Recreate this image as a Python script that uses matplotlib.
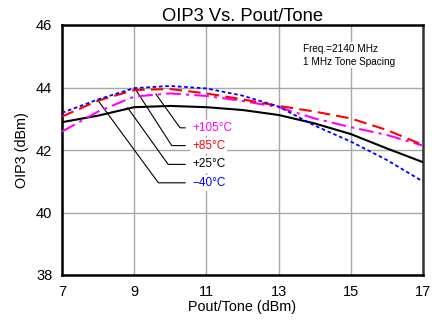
import matplotlib.pyplot as plt

plt.rcParams['font.family'] = ['Liberation Sans', 'DejaVu Sans']

pout = [7, 8, 9, 10, 11, 12, 13, 14, 15, 16, 17]
oip3_m40 = [43.19, 43.62, 43.98, 44.05, 43.97, 43.74, 43.39, 42.78, 42.27, 41.68, 40.99]
oip3_p25 = [42.89, 43.10, 43.37, 43.41, 43.37, 43.28, 43.12, 42.85, 42.51, 42.05, 41.61]
oip3_p85 = [43.07, 43.58, 43.92, 43.95, 43.81, 43.62, 43.41, 43.23, 43.01, 42.64, 42.16]
oip3_p105 = [42.59, 43.23, 43.71, 43.81, 43.73, 43.57, 43.37, 43.01, 42.73, 42.48, 42.14]

labels = ['+105°C', '+85°C', '+25°C', '\u221240°C']
label_colors = ['#ff00ff', '#ff0000', 'black', '#0000ff']
label_y = [42.71, 42.14, 41.54, 40.95]
leader_start = [(9.6, 43.79), (9.02, 43.97), (8.82, 43.35), (8.0, 43.58)]
leader_knee_x = [10.27, 10.04, 9.94, 9.67]

fig = plt.figure(figsize=(4.38, 3.22), dpi=100)
ax = fig.add_axes([62 / 438, 47 / 322, 361 / 438, 250 / 322])

ax.plot(pout, oip3_p25, color='black', lw=1.5, zorder=4)
ax.plot(pout, oip3_p105, color='#ff00ff', lw=1.5, dashes=(7, 2.5, 1.5, 2.5), zorder=4)
ax.plot(pout, oip3_p85, color='#ff0000', lw=1.5, dashes=(6, 3), zorder=4)
ax.plot(pout, oip3_m40, color='#0000ff', lw=1.3, dashes=(2, 1.5), zorder=4)

# leader lines + labels
for lab, col, ly, (sx, sy), kx in zip(labels, label_colors, label_y, leader_start, leader_knee_x):
    ax.text(10.6, ly, lab, color=col, fontsize=8.5, va='center', ha='left', zorder=3,
            bbox=dict(facecolor='white', edgecolor='none', pad=1.5))
    ax.plot([sx, kx, 10.41], [sy, ly, ly], color='black', lw=0.8, zorder=3)

ax.text(13.68, 45.03, 'Freq.=2140 MHz\n1 MHz Tone Spacing', fontsize=7.2, va='center',
        ha='left', linespacing=1.4, zorder=3, bbox=dict(facecolor='white', edgecolor='none', pad=1))

ax.set_xlim(7, 17)
ax.set_ylim(38, 46)
ax.set_xticks([7, 9, 11, 13, 15, 17])
ax.set_yticks([38, 40, 42, 44, 46])
ax.grid(True, color='#a8a8a8', lw=1)
ax.set_axisbelow(True)
ax.tick_params(length=0, labelsize=10.5, pad=7)
for sp in ax.spines.values():
    sp.set_linewidth(1.8)
    sp.set_color('black')
ax.spines['right'].set_color('#333333')

ax.set_title('OIP3 Vs. Pout/Tone', fontsize=13.2, pad=2)
ax.set_xlabel('Pout/Tone (dBm)', fontsize=10.4, labelpad=1)
ax.set_ylabel('OIP3 (dBm)', fontsize=10.4, labelpad=5)

plt.savefig('out.png', dpi=100)
